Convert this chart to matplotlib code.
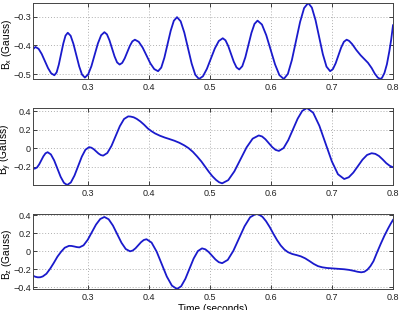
import matplotlib
matplotlib.use("Agg")
import matplotlib.pyplot as plt

# ---- data ----
t_x = [0.210, 0.214,
       0.2192, 0.2243, 0.2295, 0.2347, 0.2398, 0.245,
       0.2487, 0.2523, 0.256, 0.2597, 0.2633, 0.267,
       0.2717, 0.2763, 0.281, 0.2857, 0.2903, 0.295,
       0.3003, 0.3057, 0.311, 0.3163, 0.3217, 0.327,
       0.3312, 0.3353, 0.3395, 0.3437, 0.3478, 0.352,
       0.3562, 0.3603, 0.3645, 0.3687, 0.3728, 0.377,
       0.3833, 0.3897, 0.396, 0.4023, 0.4087, 0.415,
       0.4202, 0.4253, 0.4305, 0.4357, 0.4408, 0.446,
       0.452, 0.458, 0.464, 0.470, 0.476, 0.482,
       0.4885, 0.495, 0.5015, 0.508, 0.5145, 0.521,
       0.5255, 0.530, 0.5345, 0.539, 0.5435, 0.548,
       0.553, 0.558, 0.563, 0.568, 0.573, 0.578,
       0.5852, 0.5923, 0.5995, 0.6067, 0.6138, 0.621,
       0.6277, 0.6343, 0.641, 0.6477, 0.6543, 0.661,
       0.667, 0.673, 0.679, 0.685, 0.691, 0.697,
       0.7015, 0.706, 0.7105, 0.715, 0.7195, 0.724,
       0.728, 0.733, 0.740, 0.747, 0.753, 0.759, 0.765, 0.770, 0.775, 0.779,
       0.782, 0.786, 0.790, 0.794, 0.797, 0.800]
b_x = [-0.413, -0.405,
       -0.4116, -0.4295, -0.454, -0.4785, -0.4964, -0.503,
       -0.4932, -0.4663, -0.4295, -0.3928, -0.3658, -0.356,
       -0.3664, -0.3948, -0.4335, -0.4723, -0.5006, -0.511,
       -0.5005, -0.4718, -0.4325, -0.3933, -0.3645, -0.354,
       -0.3615, -0.382, -0.410, -0.438, -0.4585, -0.466,
       -0.4602, -0.4445, -0.423, -0.4015, -0.3858, -0.380,
       -0.3873, -0.4073, -0.4345, -0.4618, -0.4817, -0.489,
       -0.4765, -0.4423, -0.3955, -0.3488, -0.3145, -0.302,
       -0.3163, -0.3555, -0.409, -0.4625, -0.5017, -0.516,
       -0.5066, -0.4808, -0.4455, -0.4103, -0.3845, -0.375,
       -0.3822, -0.402, -0.429, -0.456, -0.4758, -0.483,
       -0.4717, -0.4408, -0.3985, -0.3563, -0.3253, -0.314,
       -0.3275, -0.3645, -0.415, -0.4655, -0.5025, -0.516,
       -0.4984, -0.4503, -0.3845, -0.3188, -0.2706, -0.253,
       -0.2688, -0.312, -0.371, -0.430, -0.4732, -0.489,
       -0.4817, -0.4618, -0.4345, -0.4073, -0.3873, -0.380,
       -0.384, -0.395, -0.416, -0.434, -0.447, -0.460, -0.478, -0.497, -0.511, -0.516,
       -0.512, -0.495, -0.465, -0.420, -0.380, -0.330]

t_y = [0.210, 0.213,
       0.2165, 0.220, 0.2235, 0.227, 0.2305, 0.234,
       0.2393, 0.2447, 0.250, 0.2553, 0.2607, 0.266,
       0.272, 0.278, 0.284, 0.290, 0.296, 0.302,
       0.3058, 0.3097, 0.3135, 0.3173, 0.3212, 0.325,
       0.3318, 0.3387, 0.3455, 0.3523, 0.3592, 0.366,
       0.370, 0.375, 0.380, 0.386, 0.392, 0.398, 0.404, 0.410, 0.418, 0.426,
       0.434, 0.442, 0.450, 0.458, 0.465, 0.472, 0.479, 0.486,
       0.492, 0.498, 0.504, 0.510, 0.515, 0.520,
       0.530, 0.540, 0.550, 0.560, 0.570, 0.580,
       0.5855, 0.591, 0.5965, 0.602, 0.6075, 0.613,
       0.6207, 0.6283, 0.636, 0.6437, 0.6513, 0.659,
       0.6692, 0.6793, 0.6895, 0.6997, 0.7098, 0.720,
       0.7275, 0.735, 0.7425, 0.750, 0.7575, 0.765,
       0.771, 0.777, 0.783, 0.789, 0.795, 0.800]
b_y = [-0.222, -0.222,
       -0.2101, -0.1775, -0.133, -0.0885, -0.0559, -0.044,
       -0.0679, -0.133, -0.222, -0.311, -0.3762, -0.400,
       -0.3725, -0.2973, -0.1945, -0.0918, -0.0165, 0.011,
       0.0048, -0.012, -0.035, -0.058, -0.0748, -0.081,
       -0.0525, 0.0255, 0.132, 0.2385, 0.3165, 0.345,
       0.343, 0.335, 0.318, 0.290, 0.255, 0.215, 0.185, 0.160, 0.135, 0.115,
       0.098, 0.080, 0.058, 0.030, 0.000, -0.040, -0.090, -0.145,
       -0.200, -0.255, -0.305, -0.345, -0.370, -0.382,
       -0.3472, -0.252, -0.122, 0.008, 0.1032, 0.138,
       0.1267, 0.096, 0.054, 0.012, -0.0187, -0.030,
       0.0012, 0.0865, 0.203, 0.3195, 0.4048, 0.436,
       0.3843, 0.2433, 0.0505, -0.1423, -0.2833, -0.335,
       -0.3162, -0.265, -0.195, -0.125, -0.0738, -0.055,
       -0.062, -0.085, -0.122, -0.163, -0.193, -0.207]

t_z = [0.210, 0.214, 0.218, 0.222,
       0.226, 0.232, 0.238, 0.244, 0.250, 0.256, 0.262, 0.269,
       0.273, 0.2775, 0.282, 0.286,
       0.2928, 0.2997, 0.3065, 0.3133, 0.3202, 0.327,
       0.334, 0.341, 0.348, 0.355, 0.362, 0.369,
       0.3735, 0.378, 0.3825, 0.387, 0.3915, 0.396,
       0.4043, 0.4127, 0.421, 0.4293, 0.4377, 0.446,
       0.4528, 0.4597, 0.4665, 0.4733, 0.4802, 0.487,
       0.4925, 0.498, 0.5035, 0.509, 0.5145, 0.520,
       0.5292, 0.5383, 0.5475, 0.5567, 0.5658, 0.575,
       0.580, 0.586, 0.592, 0.598, 0.604, 0.610, 0.616, 0.622, 0.628, 0.635,
       0.642, 0.649, 0.656, 0.663, 0.670, 0.677, 0.684, 0.692, 0.700, 0.710,
       0.720, 0.728, 0.736, 0.742, 0.748, 0.753, 0.758, 0.763, 0.768, 0.774,
       0.780, 0.786, 0.792, 0.796, 0.800]
b_z = [-0.272, -0.284, -0.290, -0.289,
       -0.280, -0.250, -0.195, -0.130, -0.060, -0.005, 0.040, 0.061,
       0.060, 0.054, 0.047, 0.044,
       0.0667, 0.1288, 0.2135, 0.2983, 0.3603, 0.383,
       0.3573, 0.2873, 0.1915, 0.0958, 0.0257, 0.000,
       0.009, 0.0338, 0.0675, 0.1013, 0.126, 0.135,
       0.0978, -0.0038, -0.1425, -0.2813, -0.3828, -0.420,
       -0.3897, -0.3068, -0.1935, -0.0803, 0.0027, 0.033,
       0.022, -0.0083, -0.0495, -0.0908, -0.121, -0.132,
       -0.0953, 0.005, 0.142, 0.279, 0.3793, 0.416,
       0.410, 0.385, 0.335, 0.270, 0.195, 0.125, 0.065, 0.020, -0.010, -0.030,
       -0.042, -0.056, -0.078, -0.108, -0.140, -0.165, -0.178, -0.186, -0.190, -0.195,
       -0.200, -0.207, -0.218, -0.228, -0.234, -0.228, -0.205, -0.165, -0.110, -0.010,
       0.085, 0.175, 0.255, 0.305, 0.350]

x_ticks = [0.3, 0.4, 0.5, 0.6, 0.7, 0.8]
x_ticklabels = ["0.3", "0.4", "0.5", "0.6", "0.7", "0.8"]
y_ticks = [[-0.5, -0.4, -0.3], [-0.2, 0, 0.2, 0.4], [-0.4, -0.2, 0, 0.2, 0.4]]
y_ticklabels = [["\u22120.5", "\u22120.4", "\u22120.3"],
                ["\u22120.2", "0", "0.2", "0.4"],
                ["\u22120.4", "\u22120.2", "0", "0.2", "0.4"]]
y_labels = ["B$_x$ (Gauss)", "B$_y$ (Gauss)", "B$_z$ (Gauss)"]
x_label = "Time (seconds)"

plt.rcParams['font.family'] = ['Liberation Sans', 'DejaVu Sans']
plt.rcParams['mathtext.fontset'] = 'custom'
plt.rcParams['mathtext.rm'] = 'Liberation Sans'
plt.rcParams['mathtext.it'] = 'Liberation Sans'

W, H = 402, 310
fig = plt.figure(figsize=(W / 100, H / 100), dpi=100)

boxes = [(3, 79), (108, 185), (214, 289)]
series = [(t_x, b_x), (t_y, b_y), (t_z, b_z)]
left, right = 33, 393

for i, ((top, bot), (tt, vv)) in enumerate(zip(boxes, series)):
    ax = fig.add_axes([left / W, 1 - bot / H, (right - left) / W, (bot - top) / H])
    ax.plot(tt, vv, color='#1a1acc', lw=1.3, solid_joinstyle='round')
    ax.set_xlim(0.21, 0.8)
    ax.set_ylim(min(vv), max(vv))
    ax.set_xticks(x_ticks)
    ax.set_xticklabels(x_ticklabels)
    ax.set_yticks(y_ticks[i])
    ax.set_yticklabels(y_ticklabels[i])
    ax.grid(True, color='#b0b0b0', linestyle=(0, (1, 2)), linewidth=0.7)
    ax.tick_params(direction='in', length=3, width=0.6, labelsize=6.5,
                   top=True, right=True, pad=1.5, colors='#222222')
    ax.tick_params(axis='x', pad=3)
    for s in ax.spines.values():
        s.set_linewidth(0.7)
        s.set_color('#444444')
    ax.set_ylabel(y_labels[i], fontsize=7.3)
    ax.yaxis.set_label_coords(-0.053, 0.46)
    if i == 2:
        ax.set_xlabel(x_label, fontsize=7.3, labelpad=1)

fig.savefig("out.png", dpi=100)
